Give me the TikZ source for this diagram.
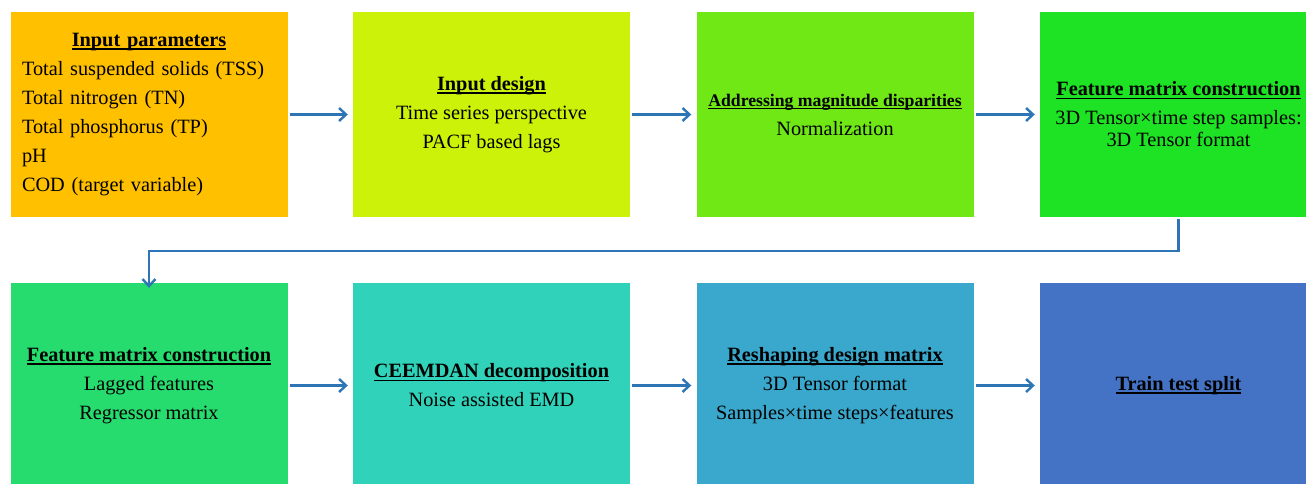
\documentclass[tikz,border=0pt]{standalone}
\usepackage{fontspec}
\setmainfont{Liberation Serif}
\usetikzlibrary{arrows.meta}

\definecolor{cInput}{RGB}{255,192,0}
\definecolor{cDesign}{RGB}{204,242,10}
\definecolor{cNorm}{RGB}{112,232,22}
\definecolor{cFeatA}{RGB}{30,226,36}
\definecolor{cFeatB}{RGB}{38,220,110}
\definecolor{cCeem}{RGB}{48,210,185}
\definecolor{cReshape}{RGB}{58,168,204}
\definecolor{cSplit}{RGB}{68,114,196}
\definecolor{flowline}{RGB}{46,117,182}

% bold heading with a solid underline
\newcommand{\boxhead}[1]{\setbox0\hbox{\textbf{#1}}\leavevmode
  \rlap{\rule[-3.2pt]{\wd0}{1.5pt}}\box0}

\tikzset{
  stepbox/.style={rectangle, inner sep=0pt, minimum width=277pt,
    minimum height=205pt, align=center,
    font=\fontsize{20.3}{29}\selectfont},
  flow/.style={draw=flowline, line width=2.4pt,
    -{Straight Barb[length=7pt,width=13pt,line width=2.4pt]}}
}

\begin{document}
\begin{tikzpicture}[x=1pt,y=-1pt]
\useasboundingbox (0,0) rectangle (1306,483);
\begin{scope}
\clip (0,0) rectangle (1306,483);

% first row
\node[stepbox, fill=cInput, text width=254pt, align=left] (inp) at (149,114.5)
  {\hbox to\linewidth{\hfil\boxhead{Input parameters}\hfil}\\
   Total suspended solids (TSS)\\
   Total nitrogen (TN)\\
   Total phosphorus (TP)\\
   pH\\
   COD (target variable)};

\node[stepbox, fill=cDesign] (des) at (491.5,114.5)
  {\boxhead{Input design}\\
   Time series perspective\\
   PACF based lags};

\node[stepbox, fill=cNorm] (norm) at (835,114.5)
  {{\fontsize{17.7}{27}\selectfont\boxhead{Addressing magnitude disparities}}\\
   Normalization};

\node[stepbox, fill=cFeatA] (feata) at (1178.5,114.5)
  {\boxhead{Feature matrix construction}\\
   3D Tensor×time step samples:\\[-7pt]
   3D Tensor format};

% second row
\node[stepbox, fill=cFeatB] (featb) at (149,385.5)
  {\boxhead{Feature matrix construction}\\
   Lagged features\\
   Regressor matrix};

\node[stepbox, fill=cCeem] (ceem) at (491.5,385.5)
  {\boxhead{CEEMDAN decomposition}\\
   Noise assisted EMD};

\node[stepbox, fill=cReshape] (resh) at (835,385.5)
  {\boxhead{Reshaping design matrix}\\
   3D Tensor format\\
   Samples×time steps×features};

\node[stepbox, fill=cSplit] (split) at (1178.5,385.5)
  {\boxhead{Train test split}};

% connectors
\draw[flow] ([xshift=2pt]inp.east) -- ([xshift=-5pt]des.west);
\draw[flow] ([xshift=2pt]des.east) -- ([xshift=-5pt]norm.west);
\draw[flow] ([xshift=2pt]norm.east) -- ([xshift=-5pt]feata.west);

\coordinate (turn) at (0,251);
\draw[flow] ([yshift=-2pt]feata.south) |- (turn -| featb.north)
  -- ([yshift=-5pt]featb.north);

\draw[flow] ([xshift=2pt]featb.east) -- ([xshift=-5pt]ceem.west);
\draw[flow] ([xshift=2pt]ceem.east) -- ([xshift=-5pt]resh.west);
\draw[flow] ([xshift=2pt]resh.east) -- ([xshift=-5pt]split.west);
\end{scope}
\end{tikzpicture}
\end{document}
